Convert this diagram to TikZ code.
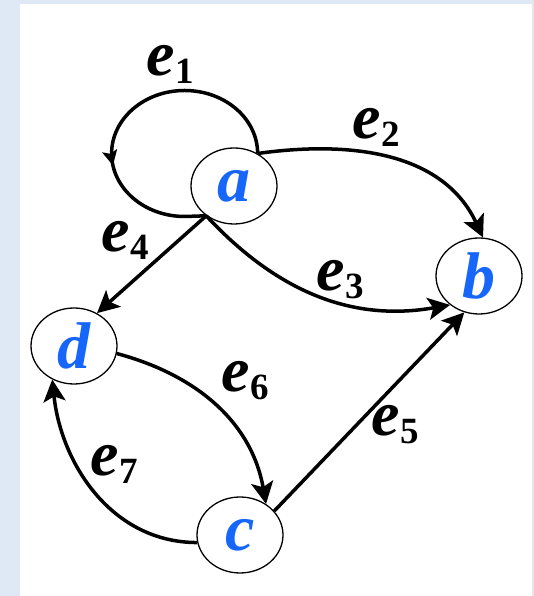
\documentclass[tikz,border=0pt]{standalone}
\usepackage{fontspec}
\setmainfont{Liberation Serif}
\usetikzlibrary{arrows.meta,shapes.geometric,decorations.markings}
\definecolor{paneblue}{RGB}{222,233,245}
\definecolor{vxblue}{RGB}{22,102,250}
\newcommand{\elab}[1]{\textit{e}\kern1pt\raisebox{-8pt}{\fontsize{37}{37}\selectfont #1}}

\begin{document}
\begin{tikzpicture}[x=10pt,y=10pt,
  vertex/.style={draw,ellipse,fill=white,line width=1.3pt,minimum width=86pt,minimum height=76pt,inner sep=0pt,
    text=vxblue,font=\fontsize{66}{66}\selectfont\bfseries\itshape},
  edge/.style={line width=3.5pt,-{Stealth[length=22pt,width=22pt,inset=5pt]}},
  loopedge/.style={line width=3.5pt,postaction={decorate},
    decoration={markings,mark=at position 0.66 with {\arrow{Stealth[length=15pt,width=15pt,inset=3pt]}}}},
  elabel/.style={anchor=base west,inner sep=0pt,font=\fontsize{64}{64}\selectfont\bfseries}]
  % panel
  \fill[paneblue] (0,0) rectangle (53.4,59.6);
  \fill[white] (2.0,0) rectangle (53.2,59.2);
  % vertices
  \node[vertex] (a) at (23.4,41.0) {a};
  \node[vertex] (b) at (47.9,32.0) {b};
  \node[vertex] (c) at (24.0,6.1) {c};
  \node[vertex] (d) at (7.4,25.0) {d};
  % edges
  \draw[loopedge] (a.54) arc[start angle=0,end angle=270,x radius=73pt,y radius=63pt] -- (a.227);
  \draw[edge] (a.54) to[out=8,in=115] (b.84);
  \draw[edge] (a.227) to[out=-47,in=190] (b.225);
  \draw[edge] (a.227) -- (d.55);
  \draw[edge] (c.35) -- (b.248);
  \draw[edge] (d.350) to[out=-15,in=100] (c.50);
  \draw[edge] (c.190) to[out=180,in=276] (d.237);
  % labels
  \node[elabel] (l1) at (14.6,52.0) {\elab{1}};
  \node[elabel] (l2) at (35.2,45.7) {\elab{2}};
  \node[elabel] (l3) at (31.6,30.5) {\elab{3}};
  \node[elabel] (l4) at (10.1,34.4) {\elab{4}};
  \node[elabel] (l5) at (37.1,16.0) {\elab{5}};
  \node[elabel] (l6) at (22.1,20.4) {\elab{6}};
  \node[elabel] (l7) at (9.0,12.0) {\elab{7}};
\end{tikzpicture}
\end{document}
